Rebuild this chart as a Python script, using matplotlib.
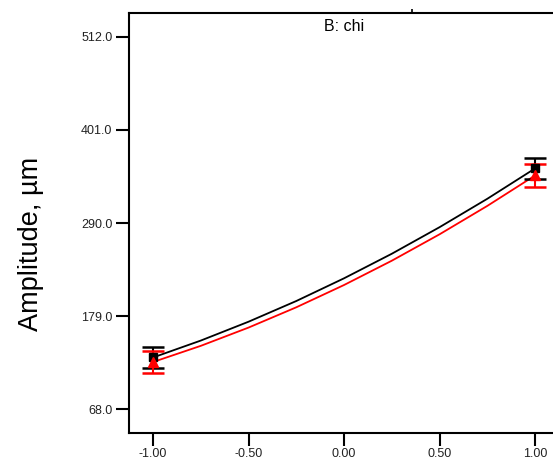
import matplotlib.pyplot as plt

plt.rcParams['font.family'] = ['Liberation Sans', 'DejaVu Sans']

# design points (B: chi) and their means with error bars
x_pts = [-1.0, 1.0]
black_pts = [129.5, 355.1]
black_err = [12.5, 12.5]
red_pts = [124.1, 346.7]
red_err = [13.0, 13.5]

# predicted curves
x_curve = [-1.0, -0.75, -0.5, -0.25, 0.0, 0.25, 0.5, 0.75, 1.0]
black_curve = [129.5, 149.7, 172.2, 196.9, 224.0, 253.3, 285.0, 318.9, 355.1]
red_curve = [124.1, 143.4, 165.2, 189.4, 216.0, 245.0, 276.5, 310.4, 346.7]

xticks = [-1.0, -0.5, 0.0, 0.5, 1.0]
xlabels = ['-1.00', '-0.50', '0.00', '0.50', '1.00']
yticks = [68.0, 179.0, 290.0, 401.0, 512.0]
ylabels = ['68.0', '179.0', '290.0', '401.0', '512.0']

fig = plt.figure(figsize=(5.53, 4.63), dpi=100)
ax = fig.add_axes([0.2333, 0.0648, 0.7667, 0.9071])

ax.plot(x_curve, black_curve, color='black', lw=1.3)
ax.plot(x_curve, red_curve, color='red', lw=1.3)
ax.errorbar(x_pts, black_pts, yerr=black_err, fmt='s', color='black', ms=6,
            capsize=8, elinewidth=1.5, capthick=1.8)
ax.errorbar(x_pts, red_pts, yerr=red_err, fmt='^', color='red', ms=7,
            capsize=8, elinewidth=1.5, capthick=1.8)

ax.set_xlim(-1.1257, 1.094)
ax.set_ylim(39.4, 540.6)
ax.set_xticks(xticks)
ax.set_xticklabels(xlabels)
ax.set_yticks(yticks)
ax.set_yticklabels(ylabels)
ax.tick_params(axis='both', direction='out', length=9.5, width=1.5, labelsize=9,
               labelcolor='#222222')
ax.tick_params(axis='x', pad=1)
ax.tick_params(axis='y', pad=2.5)
for s in ['left', 'top', 'bottom']:
    ax.spines[s].set_linewidth(1.5)
ax.spines['right'].set_visible(False)

top = ax.secondary_xaxis('top')
top.set_xticks([0.356])
top.set_xticklabels([])
top.tick_params(direction='out', length=3, width=1.2)
top.spines['top'].set_visible(False)

ax.text(0.0, 0.985, 'B: chi', transform=ax.get_xaxis_transform(),
        ha='center', va='top', fontsize=11.5)
ax.set_ylabel('Amplitude, µm', fontsize=19.5)
ax.yaxis.set_label_coords(-0.200, 0.45)

fig.savefig('out.png', dpi=100)
